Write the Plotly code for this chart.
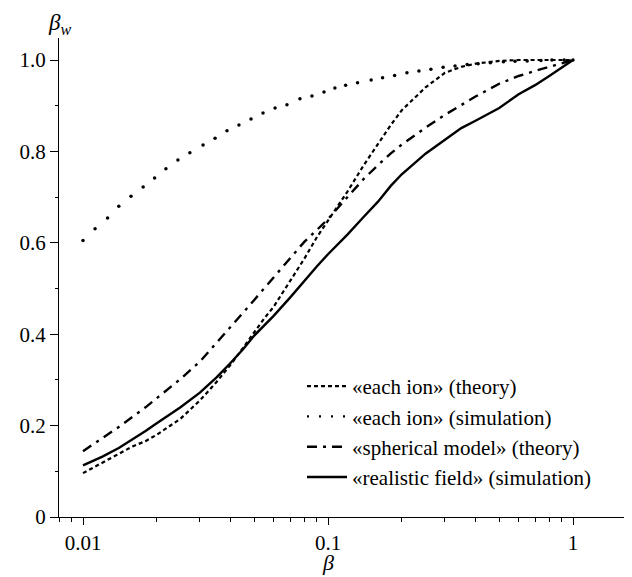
import plotly.graph_objects as go

# each ion (theory) – dashed
x_theory = [0.01, 0.012, 0.014, 0.016, 0.018, 0.02, 0.025, 0.03, 0.035, 0.04, 0.045, 0.05,
            0.055, 0.06, 0.07, 0.08, 0.09, 0.1, 0.11, 0.12, 0.14, 0.16, 0.18, 0.2, 0.25, 0.3,
            0.35, 0.4, 0.5, 0.6, 0.8, 1.0]
y_theory = [0.096, 0.119, 0.140, 0.155, 0.166, 0.18, 0.215, 0.255, 0.295, 0.333, 0.37, 0.405,
            0.435, 0.46, 0.515, 0.565, 0.612, 0.648, 0.68, 0.712, 0.77, 0.816, 0.857, 0.89, 0.94,
            0.972, 0.985, 0.992, 0.998, 1.0, 1.0, 1.0]

# each ion (simulation) – sparse dots
x_sim = [0.01, 0.0112, 0.0126, 0.014, 0.0157, 0.0176, 0.0196, 0.0218, 0.0244, 0.0273, 0.0309,
         0.0346, 0.0387, 0.0433, 0.0485, 0.0543, 0.0608, 0.068, 0.0768, 0.086, 0.0963, 0.1067,
         0.118, 0.132, 0.15, 0.167, 0.187, 0.21, 0.235, 0.263, 0.295, 0.33, 0.37, 0.41, 0.46,
         0.52, 0.58, 0.65, 0.74, 0.82, 0.92, 1.0]
y_sim = [0.605, 0.631, 0.654, 0.68, 0.702, 0.722, 0.742, 0.762, 0.781, 0.797, 0.814, 0.829,
         0.845, 0.858, 0.871, 0.884, 0.895, 0.902, 0.915, 0.921, 0.93, 0.939, 0.945, 0.95, 0.956,
         0.961, 0.966, 0.972, 0.976, 0.98, 0.984, 0.987, 0.99, 0.992, 0.994, 0.996, 0.997, 0.998,
         0.999, 1.0, 1.0, 1.0]

# spherical model (theory) – dash-dot
x_sph = [0.01, 0.012, 0.014, 0.016, 0.018, 0.02, 0.025, 0.03, 0.035, 0.04, 0.045, 0.05, 0.06,
         0.07, 0.08, 0.09, 0.1, 0.12, 0.14, 0.16, 0.18, 0.2, 0.25, 0.3, 0.35, 0.4, 0.5, 0.6,
         0.7, 0.8, 0.9, 1.0]
y_sph = [0.144, 0.172, 0.197, 0.22, 0.24, 0.26, 0.302, 0.34, 0.38, 0.415, 0.447, 0.475, 0.525,
         0.565, 0.602, 0.628, 0.652, 0.7, 0.74, 0.77, 0.795, 0.815, 0.852, 0.88, 0.902, 0.92,
         0.948, 0.965, 0.976, 0.985, 0.993, 1.0]

# realistic field (simulation) – solid
x_real = [0.01, 0.012, 0.014, 0.016, 0.018, 0.02, 0.025, 0.03, 0.035, 0.04, 0.045, 0.05, 0.06,
          0.07, 0.08, 0.09, 0.1, 0.12, 0.14, 0.16, 0.18, 0.2, 0.25, 0.3, 0.35, 0.4, 0.5, 0.6,
          0.7, 0.8, 0.9, 1.0]
y_real = [0.113, 0.132, 0.151, 0.17, 0.188, 0.205, 0.24, 0.272, 0.305, 0.337, 0.367, 0.397,
          0.44, 0.48, 0.517, 0.548, 0.575, 0.618, 0.657, 0.69, 0.724, 0.75, 0.795, 0.825, 0.851,
          0.867, 0.895, 0.925, 0.945, 0.965, 0.983, 1.0]

x_ticks = [0.01, 0.1, 1]
x_tick_text = ["0.01", "0.1", "1"]
x_minor = [0.008, 0.009, 0.02, 0.03, 0.04, 0.05, 0.06, 0.07, 0.08, 0.09,
           0.2, 0.3, 0.4, 0.5, 0.6, 0.7, 0.8, 0.9]
y_ticks = [0, 0.2, 0.4, 0.6, 0.8, 1.0]
y_tick_text = ["0", "0.2", "0.4", "0.6", "0.8", "1.0"]
names = ["«each ion» (theory)", "«each ion» (simulation)",
         "«spherical model» (theory)", "«realistic field» (simulation)"]

FONT = "Liberation Serif"
W, H = 632, 577
ML, MR, MT, MB = 42, 0, 30, 68


def serif(size):
    return dict(family=FONT, size=size, color="black")


fig = go.Figure()
fig.add_trace(go.Scatter(x=x_theory, y=y_theory, mode="lines", name=names[0],
                         line=dict(color="black", width=2.2, dash="4px,3px")))
fig.add_trace(go.Scatter(x=x_sim, y=y_sim, mode="markers", name=names[1], showlegend=False,
                         marker=dict(color="black", size=3.5)))
fig.add_trace(go.Scatter(x=[None], y=[None], mode="lines", name=names[1],
                         line=dict(color="black", width=2.2, dash="2px,10px")))
fig.add_trace(go.Scatter(x=x_sph, y=y_sph, mode="lines", name=names[2],
                         line=dict(color="black", width=2.4, dash="10px,6px,3px,6px")))
fig.add_trace(go.Scatter(x=x_real, y=y_real, mode="lines", name=names[3],
                         line=dict(color="black", width=2.4)))

plot_w = W - ML - MR
plot_h = H - MT - MB
px_per_dec = 245.0
x0_px = 75 - ML  # pixel offset of 0.01 from left edge of plot area
xr0 = -2 - x0_px / px_per_dec
xr1 = xr0 + plot_w / px_per_dec

fig.update_layout(
    template="none",
    width=W, height=H,
    margin=dict(l=ML, r=MR, t=MT, b=MB),
    paper_bgcolor="white", plot_bgcolor="white",
    font=serif(21),
    showlegend=True,
    legend=dict(x=(294 - ML) / plot_w, y=(509 - 358) / plot_h,
                xanchor="left", yanchor="top", bgcolor="rgba(0,0,0,0)",
                font=serif(21), tracegroupgap=0, itemwidth=40),
    xaxis=dict(type="log", range=[xr0, xr1], showgrid=False, zeroline=False,
               showline=True, linecolor="black", linewidth=1.2,
               tickmode="array", tickvals=x_ticks, ticktext=x_tick_text,
               ticks="outside", ticklen=7, tickwidth=1.2, tickcolor="black",
               minor=dict(tickmode="array", tickvals=x_minor, ticks="outside", ticklen=4,
                          tickwidth=1, tickcolor="black", showgrid=False),
               tickfont=serif(21)),
    yaxis=dict(range=[0, (509 - MT) / 457.0], showgrid=False, zeroline=False,
               anchor="free", position=(50 - ML) / plot_w,
               showline=True, linecolor="black", linewidth=1.2,
               tickmode="array", tickvals=y_ticks, ticktext=y_tick_text,
               ticks="outside", ticklen=8, tickwidth=1.2, tickcolor="black",
               minor=dict(dtick=0.1, ticks="outside", ticklen=3, tickwidth=1,
                          tickcolor="black", showgrid=False),
               tickfont=serif(21)),
)

fig.add_annotation(text="<i>β</i>", xref="paper", yref="paper",
                   x=(320 - ML) / plot_w, y=-(554 - 509) / plot_h,
                   showarrow=False, font=serif(22),
                   xanchor="center", yanchor="middle")
fig.add_annotation(text="<i>β<sub>w</sub></i>", xref="paper", yref="paper",
                   x=(38 - ML) / plot_w, y=(509 - 16) / plot_h,
                   showarrow=False, font=serif(23),
                   xanchor="left", yanchor="middle")

fig.write_html("out.html")
